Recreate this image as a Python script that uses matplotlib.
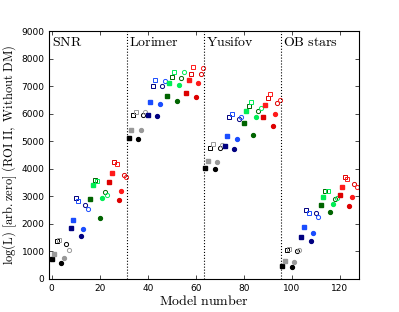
import numpy as np
import matplotlib
matplotlib.use('Agg')
import matplotlib.pyplot as plt

plt.rcParams['mathtext.fontset'] = 'cm'

regions = ['SNR', 'Lorimer', 'Yusifov', 'OB stars']

# 32 models per region: 4 colour blocks x (sq, sq, open sq, open sq, circ, circ, open circ, open circ)
snr = [720, 890, 1373, 1423, 584, 766, 1263, 1044,
       1861, 2139, 2942, 2821, 1544, 1810, 2675, 2529,
       2905, 3405, 3599, 3562, 2226, 2920, 3150, 3040,
       3515, 3854, 4256, 4183, 2858, 3197, 3760, 3686]
lorimer = [5110, 5424, 5960, 6070, 5096, 5413, 5960, 6070,
           5950, 6410, 6993, 7212, 5924, 6351, 6993, 7200,
           6654, 7103, 7322, 7530, 6446, 7044, 7300, 7504,
           6752, 7212, 7431, 7676, 6617, 7103, 7446, 7650]
yusifov = [4015, 4292, 4767, 4913, 3979, 4245, 4745, 4877,
           4829, 5205, 5887, 5972, 4720, 5096, 5804, 5887,
           5658, 6081, 6264, 6410, 5230, 5887, 6081, 6190,
           5862, 6300, 6555, 6701, 5559, 5997, 6398, 6508]
ob_stars = [485, 657, 1058, 1080, 438, 606, 1007, 1033,
            1518, 1883, 2518, 2394, 1372, 1664, 2383, 2248,
            2675, 2967, 3197, 3186, 2431, 2723, 2905, 2956,
            3051, 3343, 3708, 3635, 2664, 2978, 3453, 3332]

dark_colors = ['black', '#000080', '#006400', '#dd0000']
light_colors = ['#999999', '#1a4dff', '#00ee55', '#ff1a1a']

values = np.array(snr + lorimer + yusifov + ob_stars)
models = np.arange(len(values))

fig = plt.figure(figsize=(3.99, 3.12), dpi=100)
ax = fig.add_axes([0.1236, 0.106, 0.7764, 0.7946])

for i, (m, v) in enumerate(zip(models, values)):
    j = i % 8
    block = (i % 32) // 8
    col = dark_colors[block] if j % 2 == 0 else light_colors[block]
    mk = 's' if j < 4 else 'o'
    filled = j in (0, 1, 4, 5)
    if filled:
        ax.plot(m, v, mk, color=col, ms=2.8, mec=col)
    else:
        ax.plot(m, v, mk, mfc='none', mec=col, ms=3.0, mew=0.7)

for xl in [31.5, 63.5, 95.5]:
    ax.axvline(xl, color='black', ls=':', lw=0.8)

for k, name in enumerate(regions):
    ax.text(32 * k + 0.2, 8850, r'$\mathrm{' + name.replace(' ', r'\ ') + '}$',
            fontsize=10, ha='left', va='top')

ax.set_xlim(-1, 128)
ax.set_ylim(0, 9000)
ax.set_xticks(range(0, 121, 20))
ax.set_yticks(range(0, 9001, 1000))
ax.tick_params(direction='in', top=True, right=True, labelsize=6.5, length=3, width=0.5)
ax.set_xlabel(r'$\mathrm{Model\ number}$', fontsize=10, labelpad=1)
ax.set_ylabel(r'$\log(\mathrm{L})\ [\mathrm{arb.zero}]\ (\mathrm{ROI\ II,\ Without\ DM})$',
              fontsize=9, labelpad=2)

fig.savefig('out.png', dpi=100)
